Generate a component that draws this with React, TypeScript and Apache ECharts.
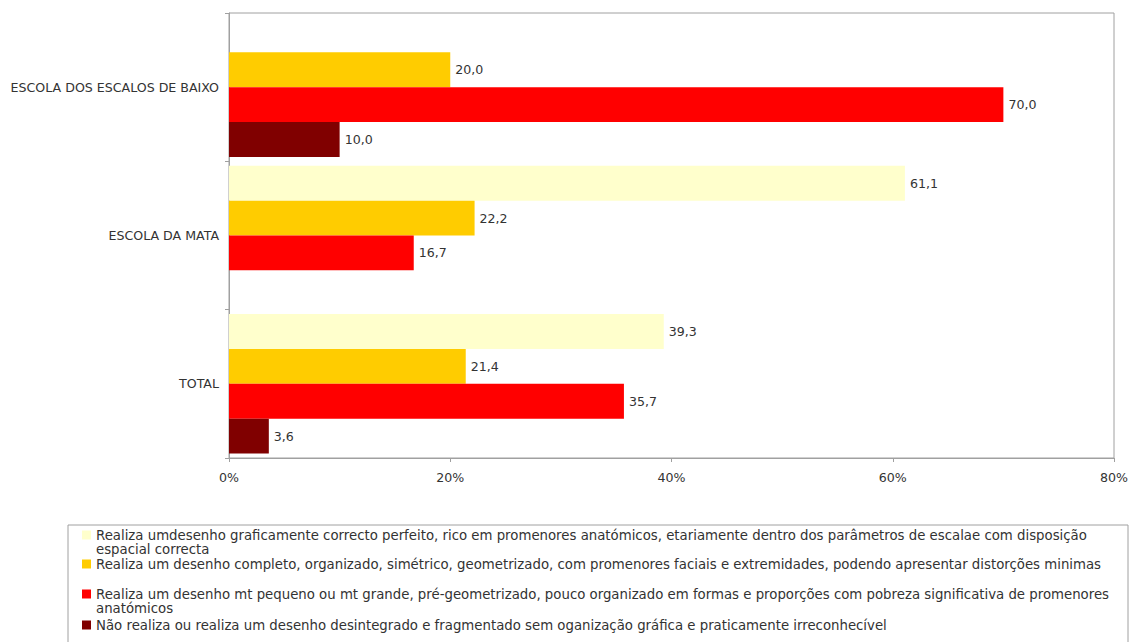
import React, { useEffect, useRef } from "react";
import * as echarts from "echarts";

const categories = ["ESCOLA DOS ESCALOS DE BAIXO", "ESCOLA DA MATA", "TOTAL"];

const seriesNames = [
  "Realiza umdesenho graficamente correcto perfeito, rico em promenores anatómicos, etariamente dentro dos parâmetros de escalae com disposição espacial correcta",
  "Realiza um desenho completo, organizado, simétrico, geometrizado, com promenores faciais e extremidades, podendo apresentar distorções minimas",
  "Realiza um desenho mt pequeno ou mt grande, pré-geometrizado, pouco organizado em formas e proporções com pobreza significativa de promenores anatómicos",
  "Não realiza ou realiza um desenho desintegrado e fragmentado sem oganização gráfica e praticamente irreconhecível",
];

const seriesColors = ["#FFFFCC", "#FFCC00", "#FF0000", "#800000"];

const valuesPerfeito = [null, 61.1, 39.3];
const valuesCompleto = [20.0, 22.2, 21.4];
const valuesPequeno = [70.0, 16.7, 35.7];
const valuesNaoRealiza = [10.0, null, 3.6];

const seriesValues = [valuesPerfeito, valuesCompleto, valuesPequeno, valuesNaoRealiza];

const axisMin = 0;
const axisMax = 80;
const axisInterval = 20;

const legendTops = [514, 557, 573, 618];
const legendTwoLines = [true, false, true, false];

const FONT = "DejaVu Sans";
const TEXT_COLOR = "#333";
const GRID_COLOR = "#a0a0a0";
const LABEL_SIZE = 12.6;

export default function App() {
  const ref = useRef<HTMLDivElement>(null);

  useEffect(() => {
    if (!ref.current) return;
    const chart = echarts.init(ref.current, undefined, { renderer: "svg" });

    const series = seriesNames.map((name, i) => ({
      name,
      type: "bar",
      data: seriesValues[i],
      barGap: "0%",
      barCategoryGap: "6%",
      itemStyle: { color: seriesColors[i] },
      label: {
        show: true,
        position: "right",
        distance: 5,
        fontFamily: FONT,
        fontSize: LABEL_SIZE,
        color: TEXT_COLOR,
        formatter: (p: any) => Number(p.value).toFixed(1).replace(".", ","),
      },
    }));

    const legends = seriesNames.map((name, i) => ({
      data: [name],
      orient: "vertical",
      left: 82,
      top: legendTops[i],
      padding: 0,
      itemWidth: 9,
      itemHeight: 9,
      itemGap: 0,
      icon: "rect",
      selectedMode: false,
      formatter: (n: string) => (legendTwoLines[i] ? "\n" + n : n),
      textStyle: {
        fontFamily: FONT,
        fontSize: 13.3,
        color: TEXT_COLOR,
        lineHeight: 14,
        width: 1045,
        overflow: "break",
      },
    }));

    chart.setOption({
      animation: false,
      textStyle: { fontFamily: FONT },
      grid: {
        left: 229,
        top: 13,
        right: 17,
        bottom: 184,
        show: true,
        borderColor: GRID_COLOR,
        borderWidth: 1,
        containLabel: false,
      },
      xAxis: {
        type: "value",
        min: axisMin,
        max: axisMax,
        interval: axisInterval,
        axisLine: { show: true, lineStyle: { color: GRID_COLOR } },
        axisTick: { show: true, length: 4, lineStyle: { color: GRID_COLOR } },
        splitLine: { show: false },
        axisLabel: {
          formatter: "{value}%",
          fontFamily: FONT,
          fontSize: LABEL_SIZE,
          color: TEXT_COLOR,
          margin: 13,
        },
      },
      yAxis: {
        type: "category",
        data: categories,
        inverse: true,
        axisLine: { show: true, lineStyle: { color: GRID_COLOR } },
        axisTick: { show: true, length: 4, lineStyle: { color: GRID_COLOR } },
        axisLabel: {
          fontFamily: FONT,
          fontSize: LABEL_SIZE,
          color: TEXT_COLOR,
          margin: 10,
        },
      },
      legend: legends,
      graphic: [
        {
          type: "rect",
          shape: { x: 68, y: 525, width: 1060, height: 140 },
          style: { fill: "none", stroke: GRID_COLOR, lineWidth: 1 },
          silent: true,
          z: -1,
        },
      ],
      series,
    });

    return () => chart.dispose();
  }, []);

  return (
    <div
      ref={ref}
      style={{ position: "fixed", left: 0, top: 0, width: 1131, height: 642, background: "#fff" }}
    />
  );
}
